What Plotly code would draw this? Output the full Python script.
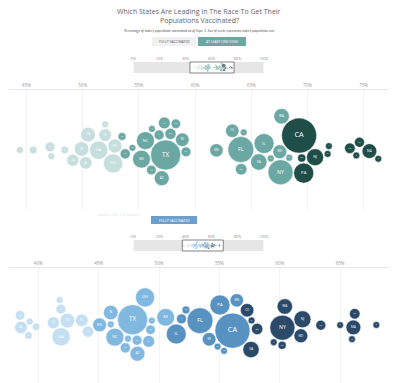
import numpy as np
import plotly.graph_objects as go

W, H = 400, 383

# ---------------- data ----------------
STATE_CODES = ["CA", "TX", "FL", "NY", "PA", "IL", "OH", "GA", "NC", "MI", "NJ", "VA", "WA",
               "AZ", "MA", "TN", "IN", "MD", "MO", "WI", "CO", "MN", "SC", "AL", "LA", "KY",
               "OR", "OK", "CT", "UT", "IA", "PR", "NV", "AR", "MS", "KS", "NM", "NE", "ID",
               "WV", "HI", "NH", "ME", "RI", "MT", "DE", "SD", "ND", "AK", "DC", "VT", "WY"]
STATE_POP_M = [39.5, 29.1, 21.5, 20.2, 13.0, 12.8, 11.8, 10.7, 10.4, 10.1, 9.3, 8.6, 7.7,
               7.2, 7.0, 6.9, 6.8, 6.2, 6.2, 5.9, 5.8, 5.7, 5.1, 5.0, 4.7, 4.5,
               4.2, 4.0, 3.6, 3.3, 3.2, 3.2, 3.1, 3.0, 3.0, 2.9, 2.1, 2.0, 1.8,
               1.8, 1.5, 1.4, 1.4, 1.1, 1.1, 1.0, 0.9, 0.8, 0.7, 0.7, 0.6, 0.6]

# At least one dose (%)
DOSE1_STATES = ["WY", "ID", "ND", "MS", "WV", "LA", "TN", "GA", "IN", "SC", "OH", "MT", "MO", "AL",
                "NE", "UT", "SD", "MI", "IA", "AK", "TX", "KY", "WI", "AZ", "KS", "NV", "OK", "NC", "AR",
                "DC", "FL", "MN", "CO", "OR", "VA", "IL", "NY", "MD", "DE", "NH", "WA",
                "PA", "NJ", "CA", "NM", "HI", "ME", "CT", "PR", "RI", "MA", "VT"]
DOSE1_VALUES = [44.4, 45.6, 47.2, 47.1, 48.4, 49.5, 50.4, 51.6, 49.9, 51.9, 52.6, 52.0, 52.9, 50.0,
                53.4, 53.7, 54.4, 55.3, 56.6, 56.2, 57.4, 57.5, 58.8, 57.0, 58.0, 58.3, 57.5, 55.8, 56.6,
                64.3, 64.1, 61.9, 63.4, 64.1, 65.6, 66.2, 67.6, 68.3, 67.7, 67.2, 68.0,
                69.7, 70.3, 69.1, 70.2, 71.9, 71.8, 73.8, 74.7, 74.3, 75.5, 76.2]

# Fully vaccinated (%)
FULL_STATES = ["MS", "WY", "ID", "WV", "AL", "LA", "ND", "GA", "TN", "AR", "OK", "SC",
               "MO", "MT", "IN", "AK", "TX", "AZ", "KY", "SD", "NC", "NV", "KS", "UT", "OH", "MI",
               "IA", "NE", "IL", "FL", "WI", "DE", "MN", "CA", "DC", "PA",
               "VA", "CO", "NH", "OR", "NY", "NJ", "HI", "NM", "MD", "WA", "PR", "RI", "CT", "ME", "MA", "VT"]
FULL_VALUES = [38.5, 39.3, 39.1, 39.8, 38.6, 41.6, 41.8, 41.9, 42.1, 42.0, 44.1, 43.6,
               45.1, 45.9, 46.3, 47.2, 47.8, 48.1, 49.1, 49.4, 46.6, 48.0, 48.8, 47.4, 48.7, 50.6,
               51.9, 52.3, 51.4, 53.4, 54.2, 55.3, 56.0, 56.1, 54.8, 55.4,
               57.4, 57.1, 57.6, 58.1, 60.3, 61.8, 59.6, 60.2, 61.6, 60.4, 63.4, 65.0, 66.2, 66.0, 66.1, 68.0]

DOSE1_TICKS = [45, 50, 55, 60, 65, 70, 75]
FULL_TICKS = [40, 45, 50, 55, 60, 65]
MINI_TICKS = [0, 20, 40, 60, 80, 100]

TITLE_1 = "Which States Are Leading In The Race To Get Their"
TITLE_2 = "Populations Vaccinated?"
SUBTITLE = ("Percentage of state's population vaccinated as of Sept. 3. "
            "Size of circle represents state's population size")

# ---------------- styles / layout constants ----------------
POP = dict(zip(STATE_CODES, STATE_POP_M))
FONT = "Open Sans"
TEAL = ["#c6dedd", "#6ba7a3", "#1f4d48"]
BLUE = ["#c4dff2", "#80b8df", "#5792c1", "#2b4a6a"]


def X(px):
    return px / W


def Y(py):
    return 1 - py / H


def radius(states):
    p = np.array([POP[s] for s in states])
    return np.maximum(3.4, 17.5 * np.sqrt(p / 39.5))


def swarm(tx, r, iters=300, sx=0.45, sy=0.05, pad=1.1):
    n = len(tx)
    idx = np.arange(n)
    ang = idx * np.pi * (3 - np.sqrt(5))
    x = tx.astype(float).copy()
    y = 10 * np.sqrt(0.5 + idx) * np.sin(ang) * 0.2
    vx = np.zeros(n)
    vy = np.zeros(n)
    alpha = 1.0
    adecay = 1 - 0.001 ** (1 / iters)
    R = r + pad / 2
    Rsum = R[:, None] + R[None, :]
    wgt = r[None, :] ** 2 / (r[:, None] ** 2 + r[None, :] ** 2)
    eye = np.eye(n, dtype=bool)
    for _ in range(iters):
        alpha -= alpha * adecay
        vx += (tx - x) * sx * alpha
        vy += (0 - y) * sy * alpha
        for _ in range(3):
            px = x + vx
            py = y + vy
            dx = px[:, None] - px[None, :]
            dy = py[:, None] - py[None, :]
            d = np.sqrt(dx ** 2 + dy ** 2) + 1e-9
            ov = (d < Rsum) & ~eye
            l = np.where(ov, (Rsum - d) / d, 0.0) * 0.7
            vx += (dx * l * wgt).sum(1)
            vy += (dy * l * wgt).sum(1)
        vx *= 0.6
        vy *= 0.6
        x += vx
        y += vy
    return x, y


fig = go.Figure()

charts = [
    dict(states=DOSE1_STATES, values=DOSE1_VALUES, ticks=DOSE1_TICKS,
         px0=6, px1=394, t0=45, t0px=24, t1=75, t1px=368, ytop=90, ybot=210, yc=150,
         colors=TEAL, cuts=[53, 69], mini=(62, 73), ax="", mini_ax="3"),
    dict(states=FULL_STATES, values=FULL_VALUES, ticks=FULL_TICKS,
         px0=6, px1=393, t0=40, t0px=36, t1=65, t1px=344, ytop=268, ybot=383, yc=325,
         colors=BLUE, cuts=[44.5, 51, 57], mini=(240, 251), ax="2", mini_ax="4"),
]

for c in charts:
    vals = np.array(c["values"], dtype=float)
    scale = (c["t1px"] - c["t0px"]) / (c["t1"] - c["t0"])
    vmin = c["t0"] - (c["t0px"] - c["px0"]) / scale
    vmax = c["t1"] + (c["px1"] - c["t1px"]) / scale
    c["range"] = [vmin, vmax]
    r = radius(c["states"])
    tx = (vals - vmin) * scale
    sx_, sy_ = swarm(tx, r)
    xv = sx_ / scale + vmin
    tier = np.searchsorted(np.array(c["cuts"]), vals, side="right")
    cols = [c["colors"][t] for t in tier]
    fs = np.maximum(1.4, r * 0.42)
    xa = "x" + c["ax"]
    ya = "y" + c["ax"]
    fig.add_trace(go.Scatter(
        x=xv, y=sy_, mode="markers+text", text=c["states"],
        marker=dict(size=2 * r, color=cols, line=dict(width=0.5, color="white"), opacity=1),
        textfont=dict(size=fs.tolist(), color="white", family=FONT),
        textposition="middle center", hoverinfo="skip", cliponaxis=False,
        xaxis=xa, yaxis=ya, showlegend=False))
    # mini overview
    k = 1.33 / scale
    fig.add_trace(go.Scatter(
        x=xv, y=sy_ * k, mode="markers",
        marker=dict(size=2 * r * k, color=cols, line=dict(width=0)),
        hoverinfo="skip", cliponaxis=False,
        xaxis="x" + c["mini_ax"], yaxis="y" + c["mini_ax"], showlegend=False))

layout = dict(
    width=W, height=H, margin=dict(l=0, r=0, t=0, b=0),
    paper_bgcolor="white", plot_bgcolor="rgba(0,0,0,0)",
    font=dict(family=FONT, color="#888"),
    showlegend=False, hovermode=False,
)

for c in charts:
    ax = c["ax"]
    layout["xaxis" + ax] = dict(
        domain=[X(c["px0"]), X(c["px1"])], range=c["range"], side="top",
        anchor="y" + ax, tickvals=c["ticks"], ticktext=[f"{t}%" for t in c["ticks"]],
        tickfont=dict(size=4.5, color="#999", family=FONT), ticks="",
        showgrid=True, gridcolor="#eeeeee", gridwidth=0.7,
        showline=True, linecolor="#e2e2e2", linewidth=0.8, zeroline=False, fixedrange=True)
    half_top = c["yc"] - c["ytop"]
    half_bot = c["ybot"] - c["yc"]
    layout["yaxis" + ax] = dict(
        domain=[Y(c["ybot"]), Y(c["ytop"])], range=[-half_bot, half_top],
        visible=False, anchor="x" + ax, fixedrange=True)
    m = c["mini_ax"]
    layout["xaxis" + m] = dict(
        domain=[X(133), X(266)], range=[0, 100], side="top", anchor="y" + m,
        tickvals=MINI_TICKS, ticktext=[f"{t}%" for t in MINI_TICKS],
        tickfont=dict(size=3.6, color="#888", family=FONT), ticks="",
        showgrid=False, showline=False, zeroline=False, fixedrange=True)
    layout["yaxis" + m] = dict(
        domain=[Y(c["mini"][1]), Y(c["mini"][0])], range=[-5.5, 5.5],
        visible=False, anchor="x" + m, fixedrange=True)

shapes = []
annotations = []
for c in charts:
    m = c["mini_ax"]
    shapes.append(dict(type="rect", xref="x" + m, yref="y" + m + " domain",
                       x0=0, x1=100, y0=0, y1=1, fillcolor="#e6e6e6",
                       line=dict(width=0), layer="below"))
    shapes.append(dict(type="rect", xref="x" + m, yref="y" + m + " domain",
                       x0=c["range"][0], x1=c["range"][1], y0=0, y1=1, fillcolor="white",
                       line=dict(width=0.8, color="#666"), layer="below"))


def button(x0, x1, y0, y1, text, bg, fg):
    shapes.append(dict(type="rect", xref="paper", yref="paper",
                       x0=X(x0), x1=X(x1), y0=Y(y1), y1=Y(y0), fillcolor=bg,
                       line=dict(width=0), layer="below"))
    annotations.append(dict(x=X((x0 + x1) / 2), y=Y((y0 + y1) / 2), xref="paper", yref="paper",
                            text=text, showarrow=False, xanchor="center", yanchor="middle",
                            font=dict(size=3.4, color=fg, family=FONT)))


button(152, 197, 37, 46, "FULLY VACCINATED", "#f1f1f1", "#555")
button(199, 248, 37, 46, "AT LEAST ONE DOSE", "#6ba7a3", "white")
button(151, 198, 216, 224, "FULLY VACCINATED", "#6b9fcc", "white")

annotations.append(dict(x=0.5, y=Y(11.7), xref="paper", yref="paper", text=TITLE_1,
                        showarrow=False, xanchor="center", yanchor="middle",
                        font=dict(size=7, color="#666", family=FONT)))
annotations.append(dict(x=0.5, y=Y(20.2), xref="paper", yref="paper", text=TITLE_2,
                        showarrow=False, xanchor="center", yanchor="middle",
                        font=dict(size=7, color="#666", family=FONT)))
annotations.append(dict(x=0.5, y=Y(30.7), xref="paper", yref="paper", text=f"<i>{SUBTITLE}</i>",
                        showarrow=False, xanchor="center", yanchor="middle",
                        font=dict(size=3.3, color="#444", family=FONT)))
annotations.append(dict(x=X(118), y=Y(214), xref="paper", yref="paper", text="Source: CDC, U.S. Census",
                        showarrow=False, xanchor="center", yanchor="middle",
                        font=dict(size=3.5, color="#d8e0e8", family=FONT)))

layout["shapes"] = shapes
layout["annotations"] = annotations
fig.update_layout(**layout)
fig.write_html("out.html", config={"displayModeBar": False, "staticPlot": True},
               post_script="document.body.style.margin='0';document.body.style.overflow='hidden';")
